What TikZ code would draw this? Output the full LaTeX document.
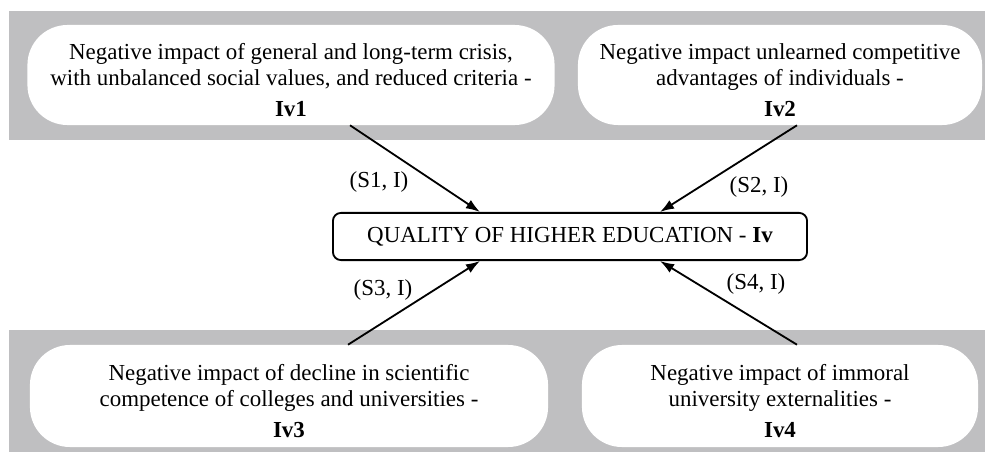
\documentclass[tikz,border=0pt]{standalone}
\usepackage{fontspec}
\setmainfont{Liberation Serif}
\usepackage{tikz}
\usetikzlibrary{arrows.meta}
\definecolor{bandgray}{RGB}{191,191,193}

\newcommand{\toppad}{\rule{0pt}{18.5pt}}

\tikzset{
  bubble/.style={fill=white, rounded corners=1cm, align=center, inner sep=0pt,
    font=\fontsize{16.3}{19}\selectfont},
  flow/.style={-{Latex[length=10pt,width=7pt]}, line width=1.3pt},
  lbl/.style={font=\fontsize{16.3}{19}\selectfont}
}

\begin{document}
\begin{tikzpicture}[x=0.025cm, y=-0.025cm]
		\useasboundingbox (0,0) rectangle (985,452);
		
		% Bands
		\fill[bandgray] (9,11) rectangle (985,140);
		\fill[bandgray] (9,330) rectangle (985,452);
		
		% Nodes
		\node[bubble, minimum width=13.175cm, minimum height=2.5cm] (iv1) at (291,75)
			{\toppad Negative impact of general and long-term crisis,\\ with unbalanced social values, and reduced criteria -\\[3pt] \textbf{Iv1}};
		\node[bubble, minimum width=10.1cm, minimum height=2.5cm] (iv2) at (780,75)
			{\toppad Negative impact unlearned competitive\\ advantages of individuals -\\[3pt] \textbf{Iv2}};
		\node[bubble, minimum width=12.95cm, minimum height=2.55cm] (iv3) at (289,396)
			{\toppad Negative impact of decline in scientific\\ competence of colleges and universities -\\[3pt] \textbf{Iv3}};
		\node[bubble, minimum width=9.9cm, minimum height=2.55cm] (iv4) at (780,396)
			{\toppad Negative impact of immoral\\ university externalities -\\[3pt] \textbf{Iv4}};
		
		\node[draw, fill=white, line width=1.3pt, rounded corners=0.2cm, minimum width=11.85cm, minimum height=1.18cm,
			font=\fontsize{16.3}{19}\selectfont] (iv) at (570,236.5) {QUALITY OF HIGHER EDUCATION - \textbf{Iv}};
		
		% Connections
		\draw[flow] ([xshift=1.475cm]iv1.south) -- ([xshift=-2.25cm]iv.north);
		\draw[flow] ([xshift=0.425cm]iv2.south) -- ([xshift=2.25cm]iv.north);
		\draw[flow] ([xshift=1.475cm]iv3.north) -- ([xshift=-2.25cm]iv.south);
		\draw[flow] ([xshift=0.425cm]iv4.north) -- ([xshift=2.25cm]iv.south);
		
		% Labels
		\node[lbl] (s1) at (379,182) {(S1, I)};
		\node[lbl] (s2) at (759,187) {(S2, I)};
		\node[lbl] (s3) at (383,290) {(S3, I)};
		\node[lbl] (s4) at (756,284) {(S4, I)};
	\end{tikzpicture}
\end{document}
